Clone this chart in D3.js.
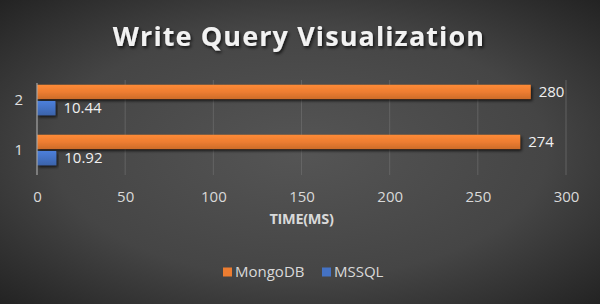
<!DOCTYPE html>
<html>
<head>
<meta charset="utf-8">
<script src="https://cdn.jsdelivr.net/npm/d3@7"></script>
<style>
  html, body { margin: 0; padding: 0; background: #333; }
  svg { display: block; }
</style>
</head>
<body>
<div id="chart"></div>
<script>
const categories = ["1", "2"];
const seriesNames = ["MongoDB", "MSSQL"];
const mongoValues = [274, 280];
const mssqlValues = [10.92, 10.44];
const xTicks = [0, 50, 100, 150, 200, 250, 300];
const colors = ["#ed7d31", "#4472c4"];

const W = 600, H = 304;
const margin = { top: 75, right: 34, bottom: 129, left: 37 };

const svg = d3.select("#chart").append("svg")
  .attr("width", W).attr("height", H)
  .style("font-family", "'Open Sans', sans-serif");

const defs = svg.append("defs");
const bg = defs.append("radialGradient").attr("id", "bg")
  .attr("cx", "50%").attr("cy", "50%").attr("r", "75%");
bg.append("stop").attr("offset", "0%").attr("stop-color", "#555555");
bg.append("stop").attr("offset", "55%").attr("stop-color", "#454545");
bg.append("stop").attr("offset", "100%").attr("stop-color", "#1e1e1e");

const shadow = defs.append("filter").attr("id", "shadow")
  .attr("x", "-10%").attr("y", "-30%").attr("width", "120%").attr("height", "180%");
shadow.append("feDropShadow").attr("dx", 1.5).attr("dy", 2).attr("stdDeviation", 1.5)
  .attr("flood-color", "#000").attr("flood-opacity", 0.7);

colors.forEach((c, i) => {
  const g = defs.append("linearGradient").attr("id", "bar" + i)
    .attr("x1", 0).attr("y1", 0).attr("x2", 0).attr("y2", 1);
  g.append("stop").attr("offset", "0%").attr("stop-color", d3.color(c).brighter(0.3));
  g.append("stop").attr("offset", "50%").attr("stop-color", c);
  g.append("stop").attr("offset", "100%").attr("stop-color", d3.color(c).darker(0.4));
});

svg.append("rect").attr("width", W).attr("height", H).attr("fill", "url(#bg)");

svg.append("text")
  .attr("x", 299).attr("y", 46)
  .attr("text-anchor", "middle")
  .attr("fill", "#f2f2f2")
  .attr("font-size", 27).attr("font-weight", "bold")
  .attr("letter-spacing", 1.1)
  .attr("filter", "url(#shadow)")
  .text("Write Query Visualization");

const x = d3.scaleLinear().domain([0, 300]).range([margin.left, W - margin.right]);
const y = d3.scaleBand().domain(categories.slice().reverse())
  .range([margin.top, H - margin.bottom]);
const sub = d3.scaleBand().domain(seriesNames).range([0, y.bandwidth()]).paddingInner(0.12).paddingOuter(0.6);

// gridlines
svg.append("g")
  .selectAll("line").data(xTicks.slice(1)).join("line")
  .attr("x1", d => x(d)).attr("x2", d => x(d))
  .attr("y1", margin.top + 5).attr("y2", H - margin.bottom)
  .attr("stroke", "#6a6a6a").attr("stroke-width", 0.8);

const rows = categories.map((c, i) => ({ cat: c, vals: [mongoValues[i], mssqlValues[i]] }));

const group = svg.append("g").selectAll("g").data(rows).join("g")
  .attr("transform", d => `translate(0,${y(d.cat)})`);

group.selectAll("rect").data(d => d.vals.map((v, i) => ({ v, i }))).join("rect")
  .attr("x", x(0))
  .attr("y", d => sub(seriesNames[d.i]))
  .attr("width", d => x(d.v) - x(0))
  .attr("height", sub.bandwidth())
  .attr("fill", d => `url(#bar${d.i})`)
  .attr("filter", "url(#shadow)");

group.selectAll("text").data(d => d.vals.map((v, i) => ({ v, i }))).join("text")
  .attr("x", d => x(d.v) + 8)
  .attr("y", d => sub(seriesNames[d.i]) + sub.bandwidth() / 2)
  .attr("dy", "0.35em")
  .attr("fill", "#f0f0f0").attr("font-size", 15)
  .text(d => d.v);

// y axis
const yAxis = svg.append("g").attr("transform", `translate(${x(0)},0)`)
  .call(d3.axisLeft(y).tickSize(0).tickPadding(14));
yAxis.select(".domain").attr("stroke", "#a6a6a6").attr("stroke-width", 1.2)
  .attr("d", `M0,${margin.top + 8}V${H - margin.bottom}`);
yAxis.selectAll("text").attr("fill", "#e0e0e0").attr("font-size", 15)
  .style("font-family", "'Open Sans', sans-serif");

// x axis
const xAxis = svg.append("g").attr("transform", `translate(0,${H - margin.bottom})`)
  .call(d3.axisBottom(x).tickValues(xTicks).tickSize(0).tickPadding(16));
xAxis.select(".domain").remove();
xAxis.selectAll("text").attr("fill", "#d9d9d9").attr("font-size", 15)
  .style("font-family", "'Open Sans', sans-serif");

svg.append("text")
  .attr("x", (x(0) + x(300)) / 2).attr("y", 224)
  .attr("text-anchor", "middle")
  .attr("fill", "#d9d9d9").attr("font-size", 14.5).attr("font-weight", "bold")
  .attr("letter-spacing", -0.3)
  .text("TIME(MS)");

// legend
const legendX = [223, 322];
const legend = svg.append("g").selectAll("g").data(seriesNames).join("g")
  .attr("transform", (d, i) => `translate(${legendX[i]},272)`);
legend.append("rect").attr("x", 0).attr("y", -4.5).attr("width", 9).attr("height", 9)
  .attr("fill", (d, i) => colors[i]);
legend.append("text").attr("x", 12).attr("y", 0).attr("dy", "0.35em")
  .attr("fill", "#d9d9d9").attr("font-size", 15)
  .text(d => d);
</script>
</body>
</html>
